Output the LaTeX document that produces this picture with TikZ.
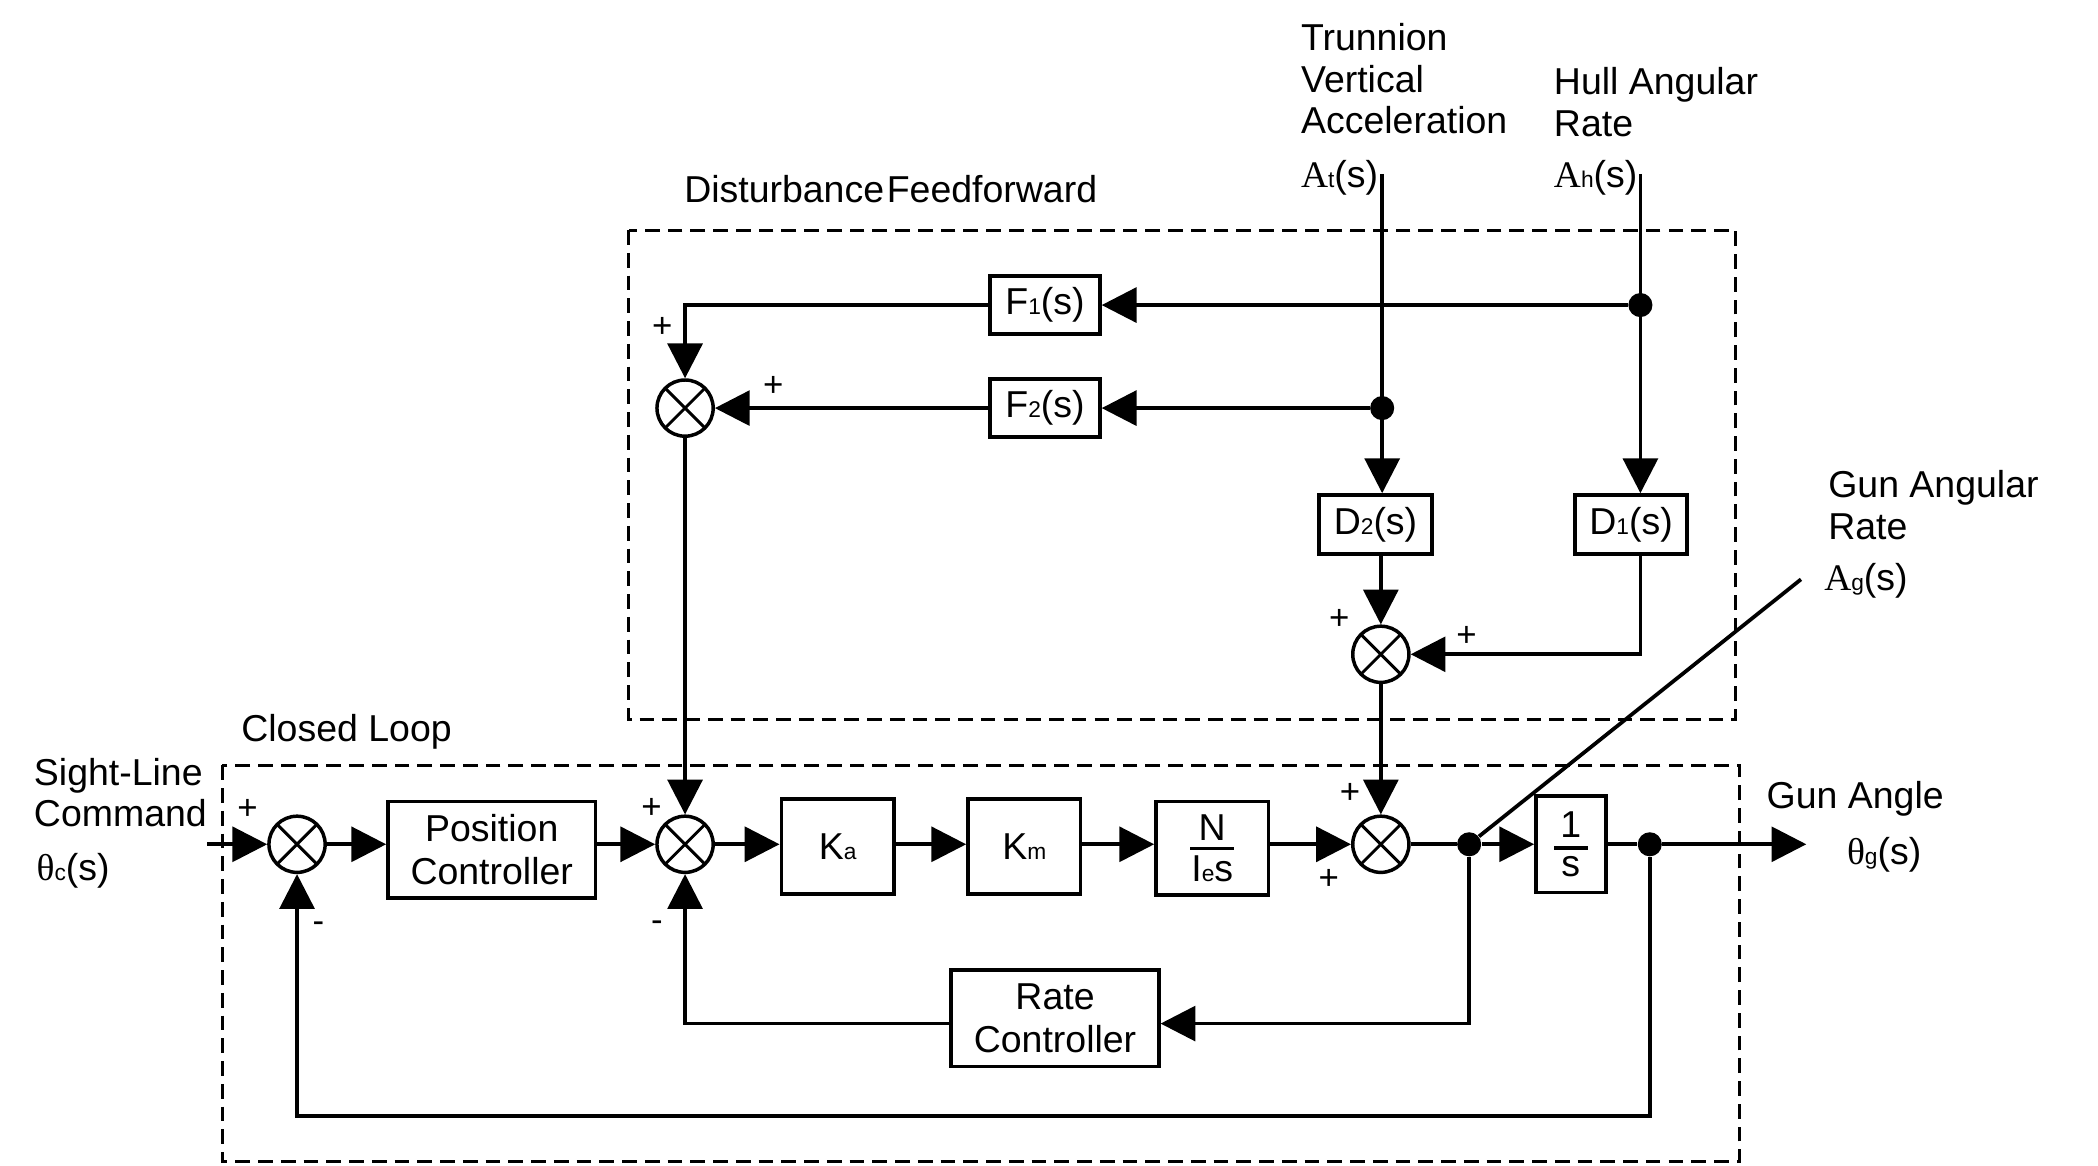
\documentclass[tikz,border=0pt]{standalone}
\usepackage{fontspec}
\setmainfont{Liberation Sans}
\newfontfamily\serifA{Liberation Serif}
\usetikzlibrary{arrows.meta}
\newcommand\sbs[1]{{\fontsize{8.5}{8.5}\selectfont #1}}
\newcommand\sigA[1]{{\serifA A}\sbs{#1}(s)}
\newcommand\sigT[1]{{\serifA θ}\sbs{#1}(s)}
\begin{document}
\begin{tikzpicture}[x=0.5pt,y=-0.5pt,
 every node/.style={font=\fontsize{14}{16}\selectfont},
 blk/.style={draw, line width=1.4pt, inner sep=0pt, align=center},
 sumj/.style={circle, draw, line width=1.3pt, minimum size=21pt, inner sep=0pt,
   path picture={\draw[line width=1.1pt] (path picture bounding box.south west) -- (path picture bounding box.north east) (path picture bounding box.north west) -- (path picture bounding box.south east);}},
 jdot/.style={circle, fill, minimum size=9pt, inner sep=0pt},
 arr/.style={line width=1.4pt, -{Triangle[length=13pt,width=13pt]}},
 ln/.style={line width=1.4pt},
 dbox/.style={line width=1.1pt, dash pattern=on 5.5pt off 3pt},
 lbl/.style={anchor=base west, inner sep=0pt},
 sgn/.style={font=\fontsize{13}{13}\selectfont, inner sep=0pt}
]
\useasboundingbox (0,0) rectangle (1568,871);
% dashed regions
\draw[dbox] (470,172) rectangle (1297,538);
\draw[dbox] (166,572) rectangle (1300,868);

% main loop
\coordinate (in) at (155,631);
\node[sumj] (S1) at (222,631) {};
\node[blk, minimum width=77.5pt, minimum height=36pt] (pc) at (367.5,635) {Position\\Controller};
\node[sumj] (S2) at (512,631) {};
\node[blk, minimum width=42pt, minimum height=35.5pt] (ka) at (626,632.5) {K\sbs{a}};
\node[blk, minimum width=42pt, minimum height=35.5pt] (km) at (765.5,632.5) {K\sbs{m}};
\node[blk, minimum width=42pt, minimum height=35pt] (nie) at (906,634) {N\\[-12.4pt]\rule{16.5pt}{1.2pt}\\[-4.3pt]I\sbs{e}s};
\node[sumj] (S3) at (1032,631) {};
\node[jdot] (d1) at (1098,631) {};
\node[blk, minimum width=26pt, minimum height=36pt] (int) at (1174,631) {1\\[-11.3pt]\rule{12.5pt}{1.2pt}\\[-5.8pt]s};
\node[jdot] (d2) at (1233,631) {};
\coordinate (out) at (1350,631);
\node[blk, minimum width=77.5pt, minimum height=36pt] (rc) at (788.5,761) {Rate\\Controller};
\coordinate (lb) at (222,834);

% disturbance feedforward
\node[sumj] (S4) at (512,305) {};
\node[blk, minimum width=41pt, minimum height=21.5pt] (F1) at (781,228) {F\sbs{1}(s)};
\node[blk, minimum width=41pt, minimum height=21.5pt] (F2) at (781,305) {F\sbs{2}(s)};
\node[blk, minimum width=42pt, minimum height=22pt] (D2) at (1028,392) {D\sbs{2}(s)};
\node[blk, minimum width=42pt, minimum height=22pt] (D1) at (1219,392) {D\sbs{1}(s)};
\node[sumj] (S5) at (1032,489) {};
\coordinate (at) at (1033,130);
\coordinate (ah) at (1226,130);
\node[jdot] (j1) at (1226,228) {};
\node[jdot] (j2) at (1033,305) {};
\coordinate (ag) at (1346,433);

% connectors
\draw[arr] (in) -- (S1);
\draw[arr] (S1) -- (pc.west |- S1);
\draw[arr] (pc.east |- S2) -- (S2);
\draw[arr] (S2) -- (ka.west |- S2);
\draw[arr] (ka.east |- S2) -- (km.west |- S2);
\draw[arr] (km.east |- S2) -- (nie.west |- S3);
\draw[arr] (nie.east |- S3) -- (S3);
\draw[ln] (S3) -- (d1);
\draw[arr] (d1) -- (int);
\draw[ln] (int) -- (d2);
\draw[arr] (d2) -- (out);
\draw[arr] (d1) |- (rc.east |- 0,765);
\draw[arr] (rc.west |- 0,765) -| (S2);
\draw[arr] (d2) |- (lb) -- (S1);

\draw[arr] (at) -- (at |- D2.north);
\draw[arr] (ah) -- (ah |- D1.north);
\draw[arr] (j1) -- (F1);
\draw[arr] (j2) -- (F2);
\draw[arr] (F1) -| (S4);
\draw[arr] (F2) -- (S4);
\draw[arr] (S4) -- (S2);
\draw[arr] (D2.south -| S5) -- (S5);
\draw[arr] (D1.south -| ah) |- (S5);
\draw[arr] (S5) -- (S3);
\draw[ln] (d1) -- (ag);

% labels
\node[lbl] (tr1) at (972,38) {Trunnion};
\node[lbl] (tr2) at (972,69) {Vertical};
\node[lbl] (tr3) at (972,100) {Acceleration};
\node[lbl] (tr4) at (972,140) {\sigA{t}};
\node[lbl] (hu1) at (1161,71) {Hull Angular};
\node[lbl] (hu2) at (1161,102) {Rate};
\node[lbl] (hu3) at (1161,140) {\sigA{h}};
\node[lbl] (dff) at (511,151) {Disturbance\hspace{1pt}Feedforward};
\node[lbl] (cl) at (180,554) {Closed Loop};
\node[lbl] (sl1) at (25,587) {Sight-Line};
\node[lbl] (sl2) at (25,618) {Command};
\node[lbl] (sl3) at (27,658) {\sigT{c}};
\node[lbl] (ga1) at (1366,372) {Gun Angular};
\node[lbl] (ga2) at (1366,403) {Rate};
\node[lbl] (ga3) at (1363,441) {\sigA{g}};
\node[lbl] (gn1) at (1320,604) {Gun Angle};
\node[lbl] (gn2) at (1380,646) {\sigT{g}};

% signs
\node[sgn] (p1) at (185,605) {+};
\node[sgn] (m1) at (238,693) {-};
\node[sgn] (p2) at (487,604) {+};
\node[sgn] (m2) at (491,692) {-};
\node[sgn] (p3) at (495,245) {+};
\node[sgn] (p4) at (578,289) {+};
\node[sgn] (p5) at (1001,463) {+};
\node[sgn] (p6) at (1096,476) {+};
\node[sgn] (p7) at (1009,593) {+};
\node[sgn] (p8) at (993,657) {+};
\end{tikzpicture}
\end{document}
